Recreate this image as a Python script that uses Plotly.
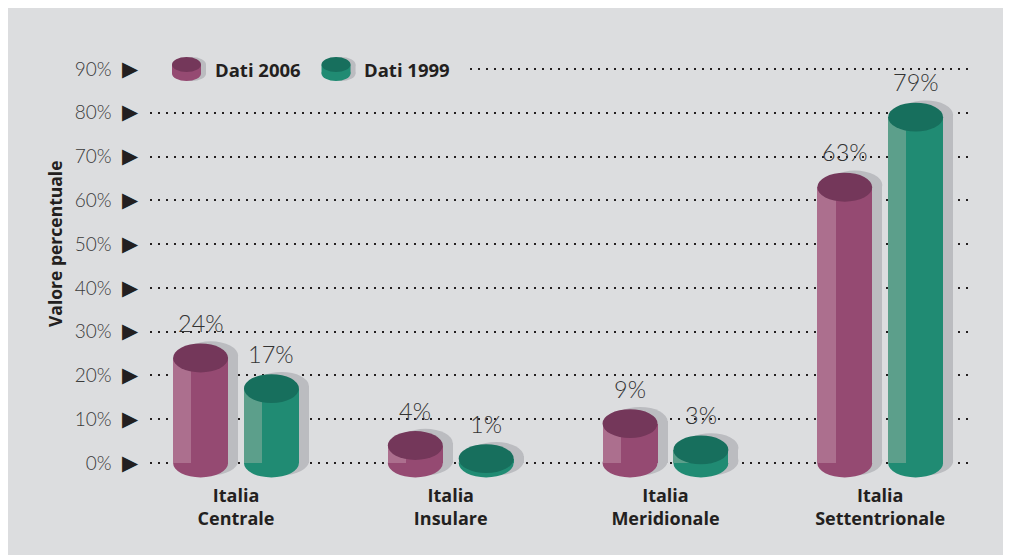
import plotly.graph_objects as go

# dati
regioni = ["Italia Centrale", "Italia Insulare", "Italia Meridionale", "Italia Settentrionale"]
etichette_x = ["Italia<br>Centrale", "Italia<br>Insulare", "Italia<br>Meridionale", "Italia<br>Settentrionale"]
dati_2006 = [24, 4, 9, 63]
dati_1999 = [17, 1, 3, 79]
tick_y = [0, 10, 20, 30, 40, 50, 60, 70, 80, 90]

BG = "#dcdddf"
INK = "#231f20"
VIOLA = {"body": "#954a72", "light": "#ac6f8e", "top": "#74375a"}
VERDE = {"body": "#208b73", "light": "#5c9f8b", "top": "#176f5d"}
OMBRA = "#bbbcc0"
THIN = "Lato"

W = 0.256      # larghezza cilindro (unità x)
OFF = 0.165    # distanza dal centro categoria
RY = 3.3       # semiasse verticale ellisse (in %)
SH_X, SH_Y = 0.047, 0.5
STRIPE = 0.085

# conversione pixel pagina -> dati (solo per la legenda)
def px2x(px):
    return (px - 236) / 214.7


def py2y(py):
    return (463 - py) / 4.378


series = [("Dati 2006", dati_2006, -OFF, VIOLA), ("Dati 1999", dati_1999, OFF, VERDE)]

fig = go.Figure()
shapes = []
annotations = []

# ombre
for name, vals, off, col in series:
    xs = [i + off for i in range(len(vals))]
    fig.add_bar(x=[x + SH_X for x in xs], y=[v + SH_Y for v in vals], width=W,
                marker=dict(color=OMBRA, line_width=0), showlegend=False, hoverinfo="skip")
    for x, v in zip(xs, vals):
        for yc in (SH_Y, v + SH_Y):
            shapes.append(dict(type="circle", xref="x", yref="y", layer="between",
                               x0=x + SH_X - W / 2, x1=x + SH_X + W / 2, y0=yc - RY, y1=yc + RY,
                               fillcolor=OMBRA, line_width=0))

# corpi e fondi
for name, vals, off, col in series:
    xs = [i + off for i in range(len(vals))]
    fig.add_bar(x=xs, y=vals, width=W, name=name,
                marker=dict(color=col["body"], line_width=0), showlegend=False,
                hovertemplate=name + ": %{y}%<extra></extra>")
    fig.add_bar(x=[x - W / 2 + STRIPE / 2 for x in xs], y=vals, width=STRIPE,
                marker=dict(color=col["light"], line_width=0), showlegend=False, hoverinfo="skip")
    for x, v in zip(xs, vals):
        shapes.append(dict(type="circle", xref="x", yref="y", layer="between",
                           x0=x - W / 2, x1=x + W / 2, y0=-RY, y1=RY,
                           fillcolor=col["body"], line_width=0))
        shapes.append(dict(type="circle", xref="x", yref="y", layer="above",
                           x0=x - W / 2, x1=x + W / 2, y0=v - RY, y1=v + RY,
                           fillcolor=col["top"], line_width=0))
        annotations.append(dict(x=x, y=v, xref="x", yref="y", text=f"{v}%", showarrow=False,
                                yshift=35, font=dict(family=THIN, size=23.5, color="#333333", weight=300)))

# legenda manuale
shapes.append(dict(type="rect", xref="paper", yref="y", layer="above",
                   x0=0, x1=(468 - 150) / 818, y0=88.5, y1=91.5, fillcolor=BG, line_width=0))
for (name, vals, off, col), (ix, tx) in zip(series, [(186.5, 213), (336, 362)]):
    hw = 14.5 / 214.7
    ry = 1.71
    yt, yb = py2y(64.5), py2y(73.5)
    xc = px2x(ix)
    sx = 5 / 214.7
    for xx, c_body, c_top in ((xc + sx, OMBRA, OMBRA), (xc, col["body"], col["top"])):
        shapes.append(dict(type="circle", xref="x", yref="y", layer="above",
                           x0=xx - hw, x1=xx + hw, y0=yb - ry, y1=yb + ry, fillcolor=c_body, line_width=0))
        shapes.append(dict(type="rect", xref="x", yref="y", layer="above",
                           x0=xx - hw, x1=xx + hw, y0=yb, y1=yt, fillcolor=c_body, line_width=0))
        shapes.append(dict(type="circle", xref="x", yref="y", layer="above",
                           x0=xx - hw, x1=xx + hw, y0=yt - ry, y1=yt + ry, fillcolor=c_top, line_width=0))
    annotations.append(dict(x=px2x(tx), y=py2y(69), xref="x", yref="y", text=f"<b>{name}</b>",
                            showarrow=False, xanchor="left",
                            font=dict(family="Open Sans", size=18.5, color=INK)))

annotations.append(dict(x=0, y=py2y(244), xref="paper", yref="y", xshift=-95, textangle=-90,
                        xanchor="center", yanchor="middle",
                        text="<b>Valore percentuale</b>", showarrow=False,
                        font=dict(family="Open Sans", size=17.5, color=INK)))

fig.update_layout(
    width=1003, height=547,
    margin=dict(l=142, r=43, t=32, b=75),
    paper_bgcolor=BG, plot_bgcolor=BG,
    barmode="overlay", bargap=0,
    shapes=shapes, annotations=annotations,
    showlegend=False,
)
fig.update_xaxes(range=[-0.4006, 3.409], tickvals=list(range(len(regioni))),
                 ticktext=[f"<b>{t}</b>" for t in etichette_x],
                 tickfont=dict(family="Open Sans", size=18, color=INK),
                 showgrid=False, zeroline=False, showline=False, ticks="", ticklabelstandoff=3)
fig.update_yaxes(range=[-3.88, 96.62], tickvals=tick_y,
                 ticktext=[f"{v}%  <span style='color:{INK};font-size:21px'>▶</span>" for v in tick_y],
                 tickfont=dict(family=THIN, size=19, color="#3a3a3a", weight=300),
                 showgrid=True, gridcolor=INK, gridwidth=2, griddash="2px,6px",
                 zeroline=False, showline=False, ticks="", ticklabelstandoff=11)

fig.write_html("out.html")
